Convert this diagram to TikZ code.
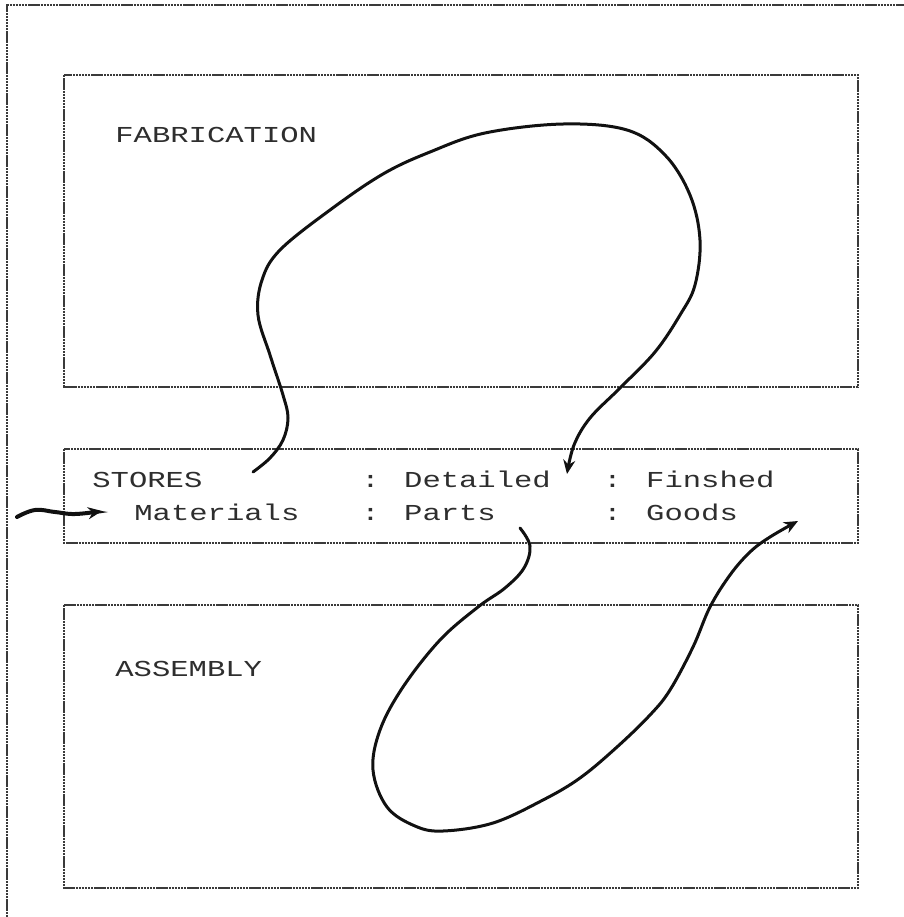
\documentclass[tikz,border=0pt]{standalone}
\usepackage{fontspec}
\usepackage{tikz}
\usetikzlibrary{arrows.meta}
\newfontfamily\dotfont[FakeStretch=1.34]{Liberation Mono}
\definecolor{PLInk}{HTML}{111111}
\definecolor{PLRule}{HTML}{3A3A3A}
\definecolor{PLType}{HTML}{2E2E2E}

\begin{document}
\begin{tikzpicture}[x=0.5pt,y=-0.5pt,
  rule/.style={PLRule,line width=.7pt,dash pattern=on 1.2pt off .35pt},
  dotword/.style={anchor=base west,inner sep=0pt,text=PLType,font=\dotfont\fontsize{11.4}{13}\selectfont},
  ink/.style={PLInk,line width=1.5pt,line cap=round},
  pen/.style={-{Stealth[length=7pt,width=6pt]}}]
\path[use as bounding box] (0,0) rectangle (904,917);
% sheet edge
\draw[rule] (7,917) -- (7,5) -- (904,5);
% the three departments
\draw[rule] (64,75) rectangle (858,387);
\draw[rule] (64,449) rectangle (858,543);
\draw[rule] (64,605) rectangle (858,888);
\node[dotword] (fab) at (115,142) {FABRICATION};
\node[dotword] (asm) at (115,676) {ASSEMBLY};
\node[dotword] (stores) at (92,487) {STORES};
\node[dotword] (materials) at (134,520) {Materials};
\node[dotword] (detailed) at (361,487) {: Detailed};
\node[dotword] (parts) at (361,520) {: Parts};
\node[dotword] (finished) at (603,487) {: Finshed};
\node[dotword] (goods) at (603,520) {: Goods};
% flow ends
\coordinate (supply) at (17,517);
\coordinate (rawin) at (102,511);
\coordinate (rawout) at (253,472);
\coordinate (partsin) at (567,474);
\coordinate (partsout) at (520,528);
\coordinate (goodsin) at (798,521);
% raw material comes in
\draw[ink,pen,line width=2pt] plot[smooth,tension=.7] coordinates {(supply) (35,510) (55,512) (75,514) (rawin)};
% out to fabrication and back as detailed parts
\draw[ink,pen] plot[smooth,tension=.6] coordinates {(rawout) (270,458) (283,440) (288,418) (283,395) (270,355)
  (258,315) (262,280) (280,250) (330,210) (383,174) (430,152) (485,133) (563,124) (627,130)
  (665,155) (690,195) (700,240) (695,285) (680,315) (655,352) (620,388) (590,418) (574,445) (partsin)};
% out to assembly and back as finished goods
\draw[ink,pen] plot[smooth,tension=.6] coordinates {(partsout) (530,546) (524,568) (505,588) (478,607) (440,640)
  (403,687) (380,730) (373,770) (387,807) (415,826) (443,831) (493,823) (543,800) (580,778)
  (617,747) (650,715) (670,690) (693,647) (710,607) (730,575) (750,552) (770,537) (goodsin)};
\end{tikzpicture}
\end{document}
